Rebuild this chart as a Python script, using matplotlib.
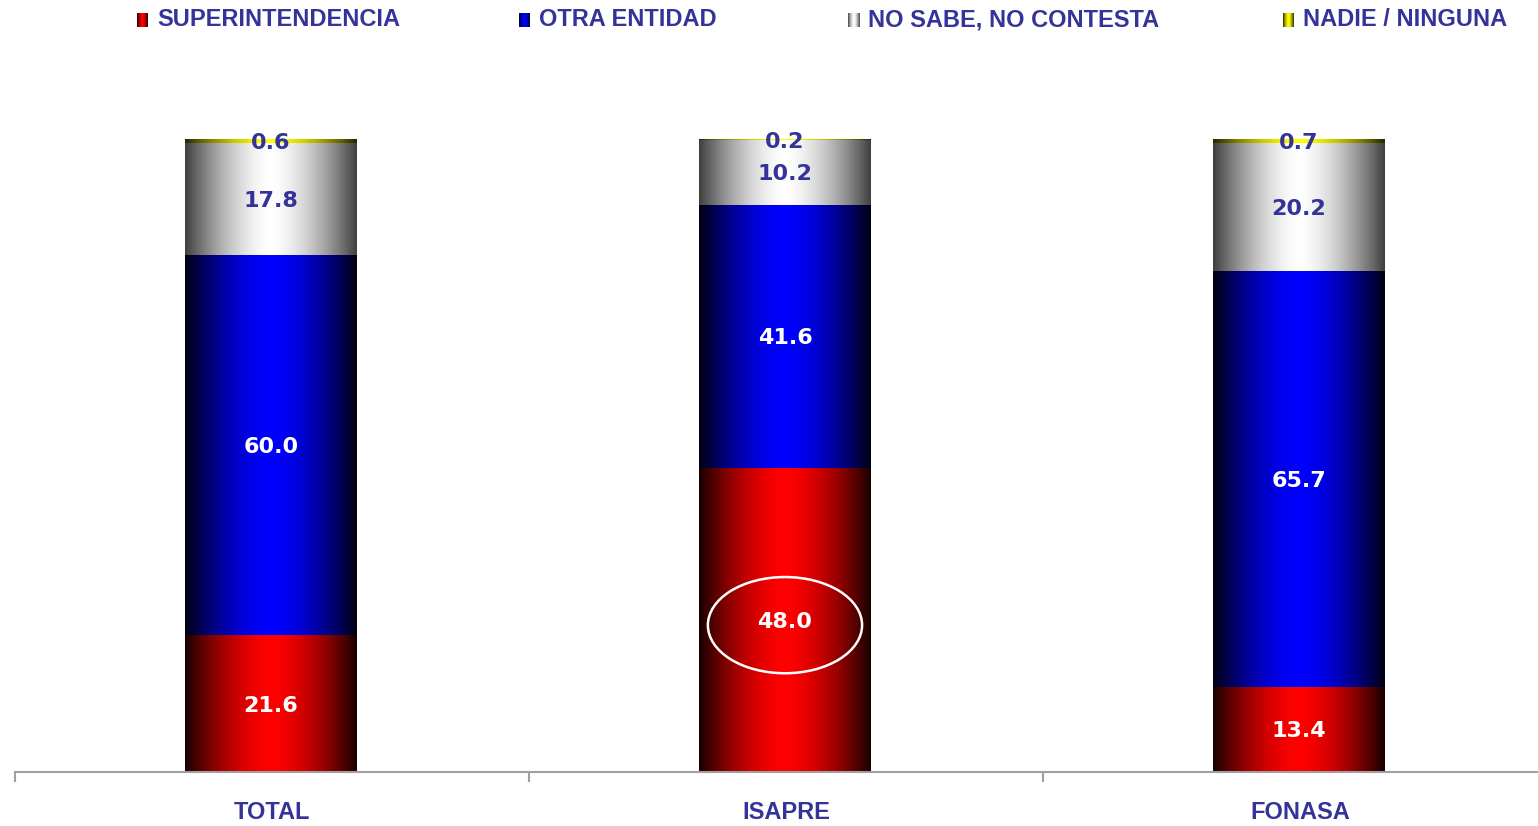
import numpy as np
import matplotlib
matplotlib.use('Agg')
import matplotlib.pyplot as plt
from matplotlib import font_manager
from matplotlib.patches import Ellipse

# datos
categorias = ['TOTAL', 'ISAPRE', 'FONASA']
series = ['SUPERINTENDENCIA', 'OTRA ENTIDAD', 'NO SABE, NO CONTESTA', 'NADIE / NINGUNA']
superintendencia = [21.6, 48.0, 13.4]
otra_entidad = [60.0, 41.6, 65.7]
no_sabe = [17.8, 10.2, 20.2]
nadie = [0.6, 0.2, 0.7]
valores = [superintendencia, otra_entidad, no_sabe, nadie]

# colores del degradado: (borde, centro)
grad = [((0.10, 0.0, 0.0), (1.0, 0.0, 0.0)),
        ((0.0, 0.0, 0.07), (0.0, 0.0, 1.0)),
        ((0.25, 0.25, 0.25), (1.0, 1.0, 1.0)),
        ((0.15, 0.15, 0.0), (1.0, 1.0, 0.0))]
color_txt = ['white', 'white', '#333399', '#333399']
azul = '#333399'

nombres = {f.name for f in font_manager.fontManager.ttflist}
angosta = 'Liberation Sans Narrow' if 'Liberation Sans Narrow' in nombres else 'Liberation Sans'


def gradiente(borde, centro, n=256):
    t = np.linspace(-1, 1, n)
    f = 1 - np.abs(t) ** 1.6
    b = np.array(borde)
    c = np.array(centro)
    img = b[None, :] + (c - b)[None, :] * f[:, None]
    return img[None, :, :]


W, H = 1538, 826
fig = plt.figure(figsize=(W / 100, H / 100), dpi=100)
ax = fig.add_axes([15 / W, 54 / H, 1542 / W, 633 / H])

x = np.arange(len(categorias))
ancho = 0.334
base = np.zeros(len(categorias))
for i, vals in enumerate(valores):
    barras = ax.bar(x - 0.002, vals, ancho, bottom=base, facecolor='none', edgecolor='none')
    img = gradiente(*grad[i])
    for j, r in enumerate(barras):
        x0, y0 = r.get_x(), r.get_y()
        im = ax.imshow(img, extent=[x0, x0 + r.get_width(), y0, y0 + r.get_height()],
                       aspect='auto', interpolation='bilinear', zorder=1)
        im.set_clip_path(r)
        ax.text(x[j] - 0.002, y0 + r.get_height() / 2 - 0.3, f'{vals[j]:.1f}', ha='center',
                va='center', color=color_txt[i], fontsize=16, fontweight='bold', zorder=3)
    base += np.array(vals)

# elipse sobre ISAPRE
ax.add_patch(Ellipse((1 - 0.002, 23.2), 0.30, 15.2, facecolor='none',
                     edgecolor='white', lw=1.8, zorder=4))

ax.set_xlim(-0.5, 2.5)
ax.set_ylim(0, 100)
for s in ['left', 'right', 'top']:
    ax.spines[s].set_visible(False)
ax.spines['bottom'].set_color('#a0a0a0')
ax.spines['bottom'].set_linewidth(1.5)
ax.set_yticks([])
ax.set_xticks([-0.5, 0.5, 1.5, 2.5])
ax.set_xticklabels([])
ax.tick_params(axis='x', which='major', length=7, color='#a0a0a0', width=1.5)
ax.set_xticks(x, minor=True)
ax.set_xticklabels(categorias, minor=True)
ax.tick_params(axis='x', which='minor', length=0, pad=29, labelsize=17, labelcolor=azul)
for lb in ax.get_xticklabels(minor=True):
    lb.set_fontfamily([angosta, 'DejaVu Sans'])
    lb.set_fontweight('bold')
    lb.set_verticalalignment('center')

# leyenda manual
pos_ley = [137, 519, 848, 1283]
for i, nombre in enumerate(series):
    m = fig.add_axes([pos_ley[i] / W, 1 - 27 / H, 11 / W, 14 / H])
    m.imshow(gradiente(*grad[i]), aspect='auto', interpolation='bilinear')
    m.axis('off')
    fig.text((pos_ley[i] + 20) / W, 1 - 20 / H, nombre, ha='left', va='center',
             color=azul, fontsize=17, fontweight='bold', family=[angosta, 'DejaVu Sans'])

fig.savefig('out.png', dpi=100)
